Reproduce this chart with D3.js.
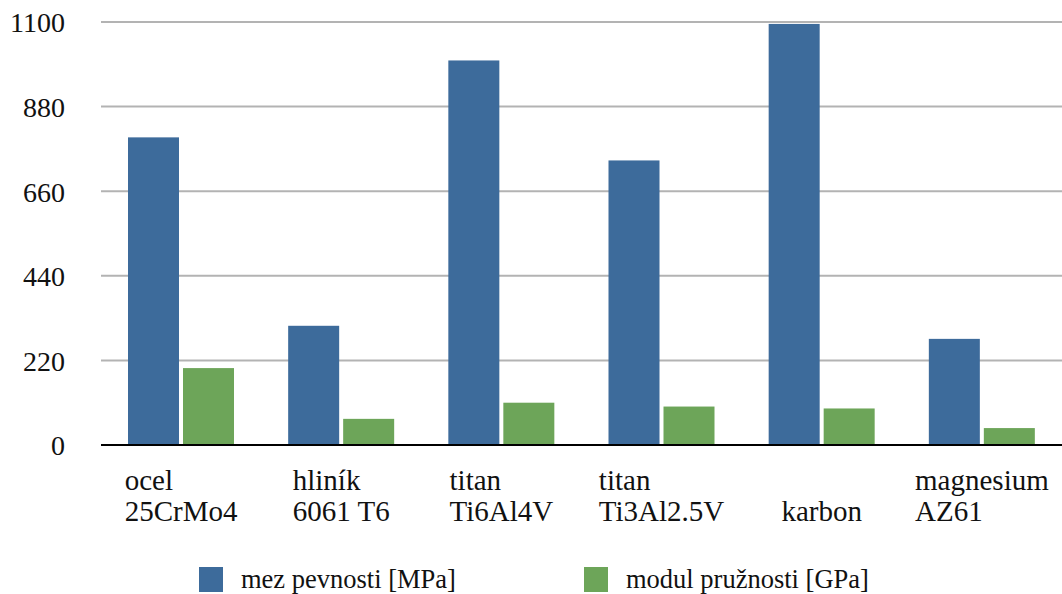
<!DOCTYPE html>
<html>
<head>
<meta charset="utf-8">
<script src="https://cdn.jsdelivr.net/npm/d3@7"></script>
<style>
  body { margin: 0; background: #fff; }
  svg text { font-family: "Liberation Serif", "DejaVu Serif", serif !important; fill: #111; }
</style>
</head>
<body>
<div id="chart"></div>
<script>
// data
const categories = ["ocel\n25CrMo4", "hliník\n6061 T6", "titan\nTi6Al4V", "titan\nTi3Al2.5V", "\nkarbon", "magnesium\nAZ61"];
const seriesNames = ["mez pevnosti [MPa]", "modul pružnosti [GPa]"];
const pevnost = [800, 310, 1000, 740, 1095, 276];
const modul = [200, 68, 110, 100, 95, 44];
const yTicks = [0, 220, 440, 660, 880, 1100];
const colors = ["#3d6b9b", "#6da559"];

const svgWidth = 1062, svgHeight = 594;
const margin = { top: 22, right: 0, bottom: 149, left: 101 };
const width = svgWidth - margin.left - margin.right;
const height = svgHeight - margin.top - margin.bottom;
const serif = "'Liberation Serif', 'DejaVu Serif', serif";

const rows = categories.map((c, i) => ({ cat: c, values: [pevnost[i], modul[i]] }));

const svg = d3.select("#chart")
  .append("svg")
  .attr("width", svgWidth)
  .attr("height", svgHeight);

const g = svg.append("g")
  .attr("transform", "translate(" + margin.left + "," + margin.top + ")");

// scales
const x0 = d3.scaleBand()
  .domain(categories)
  .range([0, width]);

const x1 = d3.scaleBand()
  .domain(seriesNames)
  .range([27, 133])
  .paddingInner(0.0727);

const y = d3.scaleLinear()
  .domain([0, 1100])
  .range([height, 0]);

// gridlines
g.selectAll(".grid")
  .data(yTicks.filter(t => t > 0))
  .enter()
  .append("line")
  .attr("x1", 0)
  .attr("x2", width)
  .attr("y1", d => y(d))
  .attr("y2", d => y(d))
  .attr("stroke", "#b3b3b3")
  .attr("stroke-width", 2);

// y axis labels
const yAxis = g.append("g")
  .call(d3.axisLeft(y).tickValues(yTicks).tickSize(0).tickPadding(36).tickFormat(d3.format("d")));
yAxis.attr("font-family", null).attr("font-size", null);
yAxis.select(".domain").remove();
yAxis.selectAll("text")
  .style("font-family", serif)
  .style("font-size", "28px")
  .attr("fill", "#111")
  .attr("dy", "0.35em");

// bars
const groups = g.selectAll(".group")
  .data(rows)
  .enter()
  .append("g")
  .attr("transform", d => "translate(" + x0(d.cat) + ",0)");

groups.selectAll("rect")
  .data(d => d.values.map((v, i) => ({ key: seriesNames[i], value: v, i: i })))
  .enter()
  .append("rect")
  .attr("x", d => x1(d.key))
  .attr("y", d => y(d.value))
  .attr("width", x1.bandwidth())
  .attr("height", d => height - y(d.value))
  .attr("fill", d => colors[d.i]);

// baseline
g.append("line")
  .attr("x1", 0)
  .attr("x2", width)
  .attr("y1", y(0))
  .attr("y2", y(0))
  .attr("stroke", "#000")
  .attr("stroke-width", 2);

// category labels: block centred on band, lines left aligned
groups.each(function(d) {
  const lines = d.cat.split("\n");
  const t = d3.select(this).append("text")
    .style("font-family", serif)
    .style("font-size", "29px");
  lines.forEach((ln, i) => {
    t.append("tspan")
      .attr("x", 0)
      .attr("y", 468 + i * 31)
      .text(ln);
  });
  const w = d3.max(t.selectAll("tspan").nodes(), n => n.getComputedTextLength());
  t.selectAll("tspan").attr("x", x0.bandwidth() / 2 - w / 2);
});

// legend
const legendX = [199, 584];
const legend = svg.selectAll(".legend")
  .data(seriesNames)
  .enter()
  .append("g")
  .attr("transform", (d, i) => "translate(" + legendX[i] + ",567)");

legend.append("rect")
  .attr("width", 24)
  .attr("height", 25)
  .attr("fill", (d, i) => colors[i]);

legend.append("text")
  .attr("x", 42)
  .attr("y", 21)
  .style("font-family", serif)
  .style("font-size", "26.5px")
  .text(d => d);
</script>
</body>
</html>
